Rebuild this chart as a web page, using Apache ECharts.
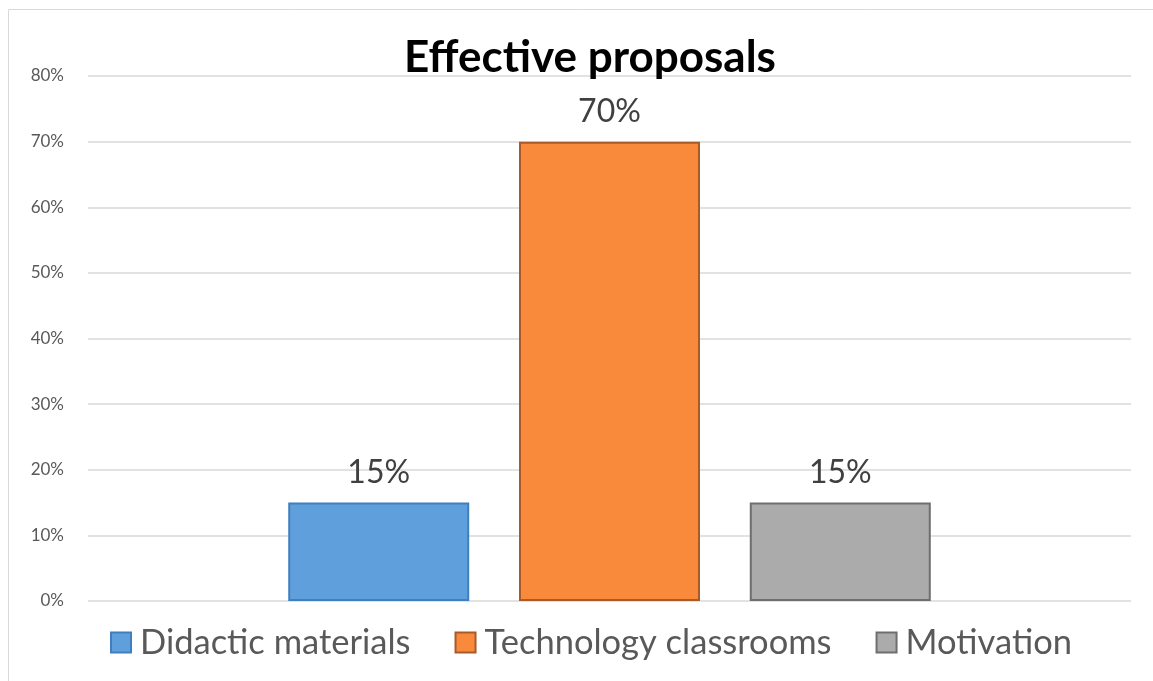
<!DOCTYPE html>
<html>
<head>
<meta charset="utf-8">
<script src="https://cdn.jsdelivr.net/npm/echarts@6/dist/echarts.min.js"></script>
<style>
html,body{margin:0;padding:0;background:#fff;}
#chart{width:1153px;height:681px;}
</style>
</head>
<body>
<div id="chart"></div>
<script>
const titleText = 'Effective proposals';
const categories = [''];
const seriesNames = ['Didactic materials', 'Technology classrooms', 'Motivation'];
const seriesValues = [[15], [70], [15]];
const seriesColors = ['#5FA0DC', '#F98A3C', '#ABABAB'];
const seriesBorders = ['#3F7FBF', '#A85A28', '#6E6E6E'];
const yTicks = [0, 10, 20, 30, 40, 50, 60, 70, 80];

const chart = echarts.init(document.getElementById('chart'));
const font = 'Lato, "Open Sans", sans-serif';
const option = {
  animation: false,
  textStyle: {fontFamily: font},
  graphic: [{
    type: 'polyline', silent: true,
    shape: {points: [[8.5, 681], [8.5, 9.5], [1153, 9.5]]},
    style: {stroke: '#D9D9D9', lineWidth: 1, fill: null}
  }],
  title: {
    text: titleText, left: 585, top: 31, textAlign: 'center',
    textStyle: {fontFamily: font, fontWeight: 'bold', fontSize: 44, color: '#000'}
  },
  legend: {
    data: seriesNames, bottom: 16, left: 105,
    itemWidth: 20, itemHeight: 20, itemGap: 44,
    icon: 'rect',
    textStyle: {fontFamily: font, fontSize: 34.5, color: '#595959', padding: [0, 0, 0, 4]}
  },
  grid: {left: 88, right: 22, top: 76, bottom: 80, containLabel: false},
  xAxis: {
    type: 'category', data: categories,
    axisLine: {show: false}, axisTick: {show: false}, axisLabel: {show: false}
  },
  yAxis: {
    type: 'value', min: 0, max: 80, interval: 10,
    axisLine: {show: false}, axisTick: {show: false},
    axisLabel: {formatter: v => yTicks.includes(v) ? v + '%' : '', fontFamily: font, fontSize: 17, color: '#595959', margin: 24},
    splitLine: {lineStyle: {color: '#D9D9D9', width: 1.5}}
  },
  series: seriesNames.map((n, i) => ({
    name: n, type: 'bar', data: seriesValues[i],
    barWidth: 181, barGap: '27.5%',
    itemStyle: {
      color: seriesColors[i],
      borderColor: seriesBorders[i], borderWidth: 2
    },
    label: {
      show: true, position: 'top', distance: 14,
      formatter: p => p.value + '%',
      fontFamily: font, fontSize: 32, color: '#404040'
    }
  }))
};
chart.setOption(option);
</script>
</body>
</html>
